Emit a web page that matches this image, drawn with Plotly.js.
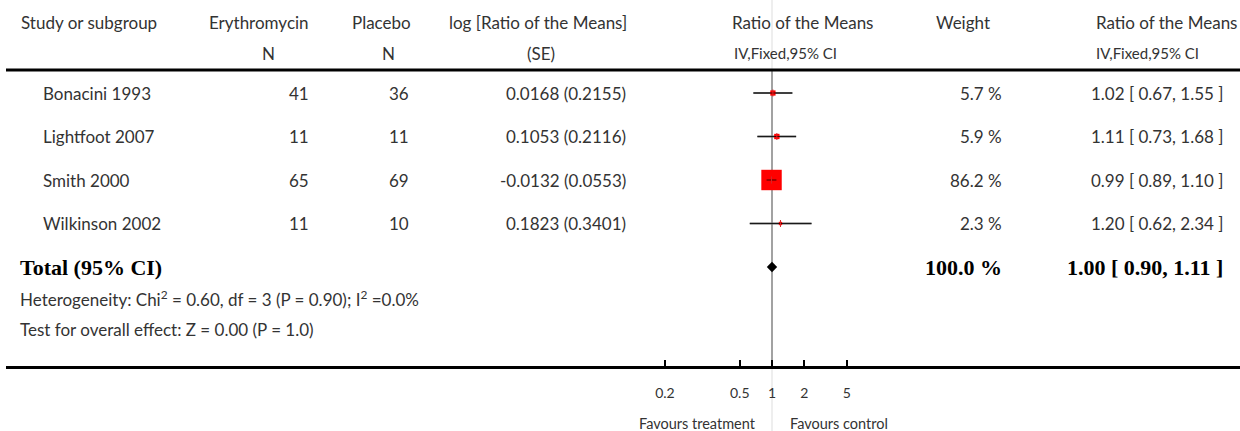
<!DOCTYPE html>
<html>
<head>
<meta charset="utf-8">
<script src="https://cdn.plot.ly/plotly-3.0.1.min.js"></script>
<style>
  html, body { margin: 0; padding: 0; background: #fff; }
  #chart { width: 1240px; height: 431px; }
</style>
</head>
<body>
<div id="chart"></div>
<script>
// Forest plot: erythromycin vs placebo, ratio of the means (IV, fixed effect)
const studies   = ['Bonacini 1993', 'Lightfoot 2007', 'Smith 2000', 'Wilkinson 2002'];
const nErythro  = [41, 11, 65, 11];
const nPlacebo  = [36, 11, 69, 10];
const logRatio  = [0.0168, 0.1053, -0.0132, 0.1823];
const logSE     = [0.2155, 0.2116, 0.0553, 0.3401];
const weights   = [5.7, 5.9, 86.2, 2.3];
const ratios    = [1.02, 1.11, 0.99, 1.20];
const ciLow     = [0.67, 0.73, 0.89, 0.62];
const ciHigh    = [1.55, 1.68, 1.10, 2.34];

const totalWeight = 100.0;
const totalRatio  = 1.00;
const totalLow    = 0.90;
const totalHigh   = 1.11;

const tickVals   = [0.1, 0.5, 1, 2, 5];
const tickLabels = ['0.2', '0.5', '1', '2', '5'];

// ---- layout helpers ----
const W = 1240, H = 431, ML = 6;
const PW = W - ML;
const ROW0 = 93, ROWSTEP = 43.5;               // pixel row grid
const px = p => (p - ML) / PW;                  // pixel x -> paper x
const row = p => (p - ROW0) / ROWSTEP;          // pixel y -> y data
const PXDEC = 107.1;                            // pixels per decade on the ratio axis
const ONE_PX = 772 - ML;                        // position of ratio = 1

const sans = 'Lato, "Open Sans", sans-serif';
const serif = '"Liberation Serif", "DejaVu Serif", serif';
const txtColor = '#333';
const fs = 17;

const ann = [];
function text(t, x, y, anchor, opts) {
  opts = opts || {};
  ann.push({
    text: t, xref: 'paper', yref: 'y', x: px(x), y: y,
    xanchor: anchor, yanchor: 'middle', showarrow: false,
    font: { family: opts.family || sans, size: opts.size || fs, color: opts.color || txtColor }
  });
}

// header
const h1 = row(22), h2 = row(53);
const sub = { size: 15 };
text('Study or subgroup', 19, h1, 'left');
text('Erythromycin', 259, h1, 'center');
text('N', 268, h2, 'center');
text('Placebo', 381, h1, 'center');
text('N', 388, h2, 'center');
text('log [Ratio of the Means]', 538, h1, 'center');
text('(SE)', 541, h2, 'center');
text('Ratio of the Means', 802, h1, 'center');
text('IV,Fixed,95% CI', 785, h2, 'center', sub);
text('Weight', 963, h1, 'center');
text('Ratio of the Means', 1239, h1, 'right');
text('IV,Fixed,95% CI', 1147, h2, 'center', sub);

// study rows
studies.forEach((s, i) => {
  text(s, 41, i, 'left');
  text(String(nErythro[i]), 311, i, 'right');
  text(String(nPlacebo[i]), 411, i, 'right');
  text(logRatio[i].toFixed(4) + ' (' + logSE[i].toFixed(4) + ')', 628, i, 'right');
  text(weights[i].toFixed(1) + ' %', 1004, i, 'right');
  text(ratios[i].toFixed(2) + ' [ ' + ciLow[i].toFixed(2) + ', ' + ciHigh[i].toFixed(2) + ' ]', 1225, i, 'right');
});

// total row
const tRow = studies.length;
const bold = { family: serif, size: 22, color: '#000' };
text('<b>Total (95% CI)</b>', 18, tRow, 'left', bold);
text('<b>' + totalWeight.toFixed(1) + ' %</b>', 1004, tRow, 'right', bold);
text('<b>' + totalRatio.toFixed(2) + ' [ ' + totalLow.toFixed(2) + ', ' + totalHigh.toFixed(2) + ' ]</b>', 1225, tRow, 'right', bold);

text('Heterogeneity: Chi<sup>2</sup> = 0.60, df = 3 (P = 0.90); I<sup>2</sup> =0.0%', 18, row(298), 'left');
text('Test for overall effect: Z = 0.00 (P = 1.0)', 18, row(329), 'left');

const foot = { size: 14.5 };
text('Favours treatment', 758, row(423), 'right', foot);
text('Favours control', 788, row(423), 'left', foot);

// ---- traces ----
const rows = studies.map((_, i) => i);

const ciX = [], ciY = [];
rows.forEach(i => { ciX.push(ciLow[i], ciHigh[i], null); ciY.push(i, i, null); });

// grey confidence interval, beneath the weight squares
const ciLines = {
  type: 'scatter', mode: 'lines', x: ciX, y: ciY,
  line: { color: '#666666', width: 2 }, hoverinfo: 'skip'
};

const squares = {
  type: 'scatter', mode: 'markers', x: ratios, y: rows,
  marker: { symbol: 'square', color: '#ff0000', opacity: 1,
            size: weights.map(w => 2.2 * Math.sqrt(w)), line: { width: 0 } },
  hoverinfo: 'skip'
};

// thin dark interval drawn over the squares
const ciInner = {
  type: 'scatter', mode: 'lines', x: ciX, y: ciY,
  line: { color: 'rgba(0,0,0,0.75)', width: 1 }, hoverinfo: 'skip'
};

const centers = {
  type: 'scatter', mode: 'markers', x: ratios, y: rows,
  marker: { symbol: 'line-ns-open', size: 5, opacity: 1, line: { color: '#000', width: 1 } },
  hoverinfo: 'skip'
};

const diamond = {
  type: 'scatter', mode: 'markers', x: [totalRatio], y: [tRow],
  marker: { symbol: 'diamond', color: '#000', size: 8, opacity: 1, line: { width: 0 } },
  hoverinfo: 'skip'
};

const axisY = row(367);
const lineTop = row(70);

const layout = {
  width: W, height: H,
  margin: { l: ML, r: 0, t: 0, b: 0, pad: 0 },
  paper_bgcolor: '#fff', plot_bgcolor: '#fff',
  showlegend: false,
  xaxis: {
    type: 'log',
    range: [-ONE_PX / PXDEC, (PW - ONE_PX) / PXDEC],
    domain: [0, 1],
    anchor: 'free', position: (H - 367) / H,
    showline: true, linewidth: 3, linecolor: '#000',
    ticks: 'inside', ticklen: 6, tickwidth: 2, tickcolor: '#000',
    tickvals: tickVals, ticktext: tickLabels,
    ticklabelstandoff: 12,
    tickfont: { family: sans, size: 14, color: txtColor },
    showgrid: false, zeroline: false, fixedrange: true
  },
  yaxis: {
    range: [row(H), row(0)],
    visible: false, showgrid: false, zeroline: false, fixedrange: true
  },
  shapes: [
    { type: 'line', xref: 'x', yref: 'paper', x0: 1, x1: 1, y0: 0, y1: 1,
      line: { color: '#dddddd', width: 1 }, layer: 'below' },
    { type: 'line', xref: 'x', yref: 'y', x0: 1, x1: 1, y0: lineTop, y1: axisY,
      line: { color: '#888888', width: 1.5 }, layer: 'below' },
    { type: 'line', xref: 'paper', yref: 'y', x0: 0, x1: 1, y0: lineTop, y1: lineTop,
      line: { color: '#000', width: 3 } }
  ],
  annotations: ann
};

Plotly.newPlot('chart', [ciLines, squares, ciInner, centers, diamond], layout, { staticPlot: true, displayModeBar: false });
</script>
</body>
</html>
